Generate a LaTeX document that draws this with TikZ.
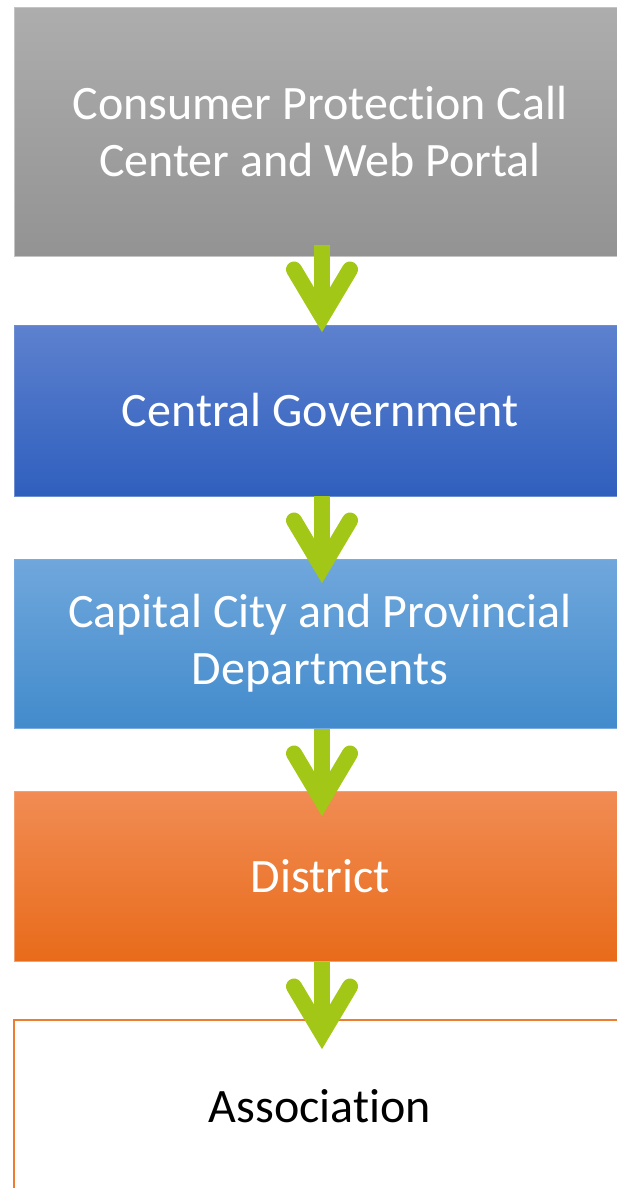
\documentclass[tikz,border=0pt]{standalone}
\usepackage{fontspec}
\setmainfont{Carlito}[RawFeature={-liga;-clig;-calt;-dlig}]
\usetikzlibrary{positioning}

\definecolor{arrowgreen}{RGB}{163,199,22}
\definecolor{grayTop}{RGB}{173,173,173}
\definecolor{grayBot}{RGB}{147,147,147}
\definecolor{grayEdge}{RGB}{196,196,196}
\definecolor{blueTop}{RGB}{93,129,206}
\definecolor{blueBot}{RGB}{47,95,190}
\definecolor{blueEdge}{RGB}{110,142,212}
\definecolor{skyTop}{RGB}{112,167,220}
\definecolor{skyBot}{RGB}{66,139,204}
\definecolor{skyEdge}{RGB}{120,172,224}
\definecolor{orangeTop}{RGB}{241,140,84}
\definecolor{orangeBot}{RGB}{232,107,26}
\definecolor{orangeEdge}{RGB}{244,160,110}
\definecolor{assocEdge}{RGB}{237,125,49}

\tikzset{
  levelbox/.style={rectangle, minimum width=612pt, inner sep=0pt,
    align=center, font=\fontsize{48}{57}\selectfont, text=white, line width=1pt},
  graybox/.style={levelbox, top color=grayTop, bottom color=grayBot, draw=grayEdge},
  bluebox/.style={levelbox, top color=blueTop, bottom color=blueBot, draw=blueEdge},
  skybox/.style={levelbox, top color=skyTop, bottom color=skyBot, draw=skyEdge},
  orangebox/.style={levelbox, top color=orangeTop, bottom color=orangeBot, draw=orangeEdge},
  assocbox/.style={levelbox, fill=white, draw=assocEdge, line width=2.2pt, text=black},
  chevshaft/.style={fill=arrowgreen},
  chevhead/.style={draw=arrowgreen, line width=16pt, line cap=round, line join=miter}
}

% green down arrow: shaft plus a round-ended chevron, #1 names its top point
\newcommand{\chevdown}[1]{%
  \fill[chevshaft] ([xshift=-8pt]#1) rectangle ([xshift=8pt,yshift=-60pt]#1);
  \draw[chevhead] ([xshift=-28pt,yshift=-25pt]#1) -- ([yshift=-72pt]#1)
    -- ([xshift=28pt,yshift=-25pt]#1);
}

\begin{document}
\begin{tikzpicture}[x=1pt,y=-1pt]
  \useasboundingbox (0,0) rectangle (616,1188);

  \node[graybox, minimum height=248pt] (portal) at (320,132)
    {Consumer Protection Call\\Center and Web Portal};
  \node[bluebox, minimum height=171pt] (central) at (320,410.5)
    {Central Government};
  \node[skybox, minimum height=169pt] (capital) at (320,643.5)
    {Capital City and Provincial\\Departments};
  \node[orangebox, minimum height=170pt] (district) at (320,876)
    {District};
  \node[assocbox, minimum height=172pt] (assoc) at (320,1106)
    {Association};

  \coordinate (a1) at ([xshift=2pt,yshift=12pt]portal.south);
  \coordinate (a2) at ([xshift=2pt,yshift=1pt]central.south);
  \coordinate (a3) at ([xshift=2pt,yshift=0pt]capital.south);
  \coordinate (a4) at ([xshift=2pt,yshift=0pt]district.south);

  \chevdown{a1}
  \chevdown{a2}
  \chevdown{a3}
  \chevdown{a4}
\end{tikzpicture}
\end{document}
